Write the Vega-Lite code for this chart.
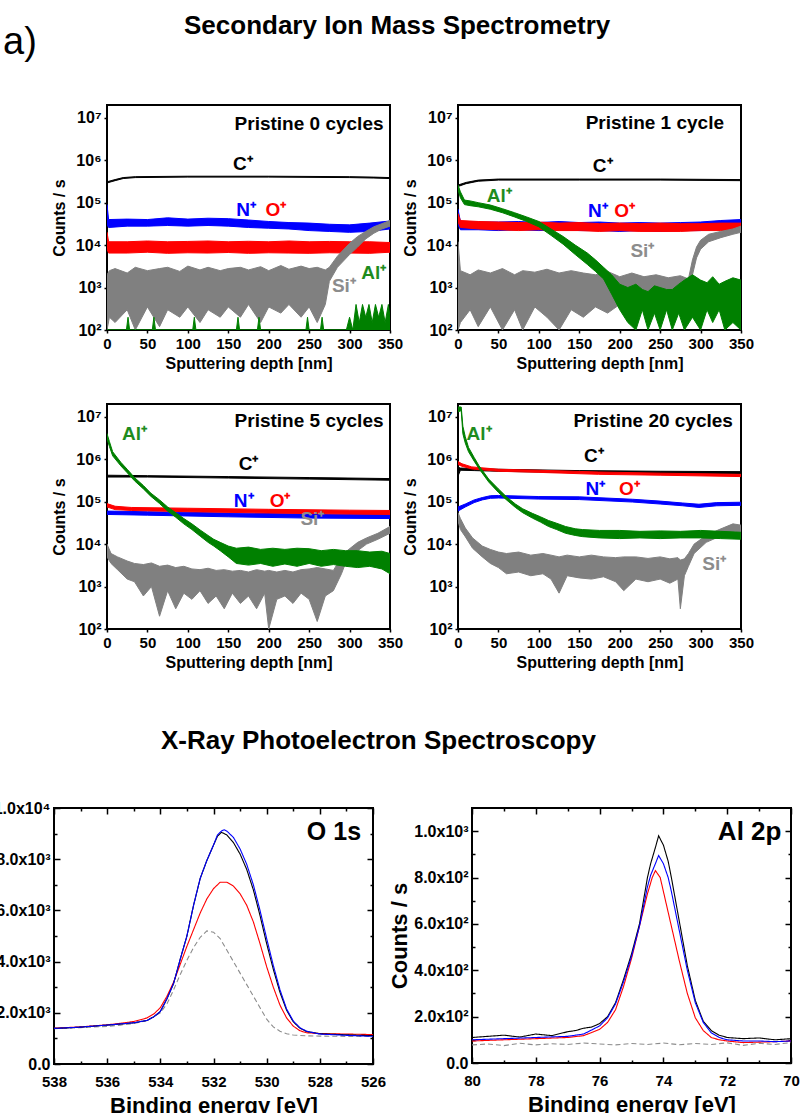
{
  "$schema": "https://vega.github.io/schema/vega-lite/v6.json",
  "background": "white",
  "padding": {"left": -8, "top": 13, "right": 0, "bottom": -4},
  "title": {"text": "a)", "anchor": "start", "frame": "group", "baseline": "alphabetic", "offset": -79, "dx": -51, "fontSize": 38, "fontWeight": "normal"},
  "config": {
    "font": "Liberation Sans",
    "view": {"stroke": "black", "strokeWidth": 2},
    "axis": {"labelFont": "Liberation Sans", "titleFont": "Liberation Sans", "labelFontWeight": "bold", "titleFontWeight": "bold", "labelColor": "black", "titleColor": "black", "tickColor": "black", "domainColor": "black", "grid": false, "tickWidth": 1.5, "labelFlush": false, "labelOverlap": false, "domain": false},
    "text": {"font": "Liberation Sans"},
    "title": {"font": "Liberation Sans", "color": "black"}
  },
  "datasets": {
    "sims": [
      {"p":1,"s":"C","x":0,"lo":2.9e5,"hi":3.1e5},{"p":1,"s":"C","x":5,"lo":3.1e5,"hi":3.3e5},{"p":1,"s":"C","x":10,"lo":3.3e5,"hi":3.5e5},{"p":1,"s":"C","x":20,"lo":3.7e5,"hi":3.9e5},{"p":1,"s":"C","x":35,"lo":3.9e5,"hi":4.1e5},{"p":1,"s":"C","x":100,"lo":4.0e5,"hi":4.2e5},{"p":1,"s":"C","x":200,"lo":4.0e5,"hi":4.2e5},{"p":1,"s":"C","x":300,"lo":3.9e5,"hi":4.1e5},{"p":1,"s":"C","x":330,"lo":3.8e5,"hi":4.0e5},{"p":1,"s":"C","x":350,"lo":3.7e5,"hi":3.9e5},
      {"p":1,"s":"N","x":0,"lo":3e4,"hi":9e4},{"p":1,"s":"N","x":2,"lo":2.6e4,"hi":4e4},{"p":1,"s":"N","x":25,"lo":2.8e4,"hi":4.1e4},{"p":1,"s":"N","x":50,"lo":2.8e4,"hi":4e4},{"p":1,"s":"N","x":75,"lo":2.9e4,"hi":4.4e4},{"p":1,"s":"N","x":100,"lo":2.8e4,"hi":4.1e4},{"p":1,"s":"N","x":125,"lo":2.9e4,"hi":4.3e4},{"p":1,"s":"N","x":150,"lo":2.8e4,"hi":4.2e4},{"p":1,"s":"N","x":175,"lo":2.6e4,"hi":3.9e4},{"p":1,"s":"N","x":200,"lo":2.5e4,"hi":3.6e4},{"p":1,"s":"N","x":225,"lo":2.4e4,"hi":3.4e4},{"p":1,"s":"N","x":250,"lo":2.2e4,"hi":3.3e4},{"p":1,"s":"N","x":275,"lo":2.1e4,"hi":3.1e4},{"p":1,"s":"N","x":300,"lo":2.0e4,"hi":3.0e4},{"p":1,"s":"N","x":325,"lo":2.1e4,"hi":3.3e4},{"p":1,"s":"N","x":350,"lo":2.4e4,"hi":3.7e4},
      {"p":1,"s":"O","x":0,"lo":8e3,"hi":2e4},{"p":1,"s":"O","x":2,"lo":6.5e3,"hi":1.2e4},{"p":1,"s":"O","x":25,"lo":6.5e3,"hi":1.2e4},{"p":1,"s":"O","x":50,"lo":6.8e3,"hi":1.25e4},{"p":1,"s":"O","x":75,"lo":6.4e3,"hi":1.2e4},{"p":1,"s":"O","x":100,"lo":6.6e3,"hi":1.22e4},{"p":1,"s":"O","x":125,"lo":6.5e3,"hi":1.25e4},{"p":1,"s":"O","x":150,"lo":6.7e3,"hi":1.2e4},{"p":1,"s":"O","x":175,"lo":6.4e3,"hi":1.23e4},{"p":1,"s":"O","x":200,"lo":6.6e3,"hi":1.2e4},{"p":1,"s":"O","x":225,"lo":6.5e3,"hi":1.25e4},{"p":1,"s":"O","x":250,"lo":6.4e3,"hi":1.2e4},{"p":1,"s":"O","x":275,"lo":6.6e3,"hi":1.22e4},{"p":1,"s":"O","x":300,"lo":6.5e3,"hi":1.2e4},{"p":1,"s":"O","x":325,"lo":6.4e3,"hi":1.2e4},{"p":1,"s":"O","x":350,"lo":6.8e3,"hi":1.15e4},
      {"p":1,"s":"Si","x":0,"lo":100,"hi":2e3},{"p":1,"s":"Si","x":3,"lo":200,"hi":2.5e3},{"p":1,"s":"Si","x":10,"lo":150,"hi":2.8e3},{"p":1,"s":"Si","x":25,"lo":300,"hi":2.2e3},{"p":1,"s":"Si","x":35,"lo":100,"hi":3e3},{"p":1,"s":"Si","x":50,"lo":350,"hi":2.5e3},{"p":1,"s":"Si","x":65,"lo":120,"hi":2.8e3},{"p":1,"s":"Si","x":75,"lo":300,"hi":3e3},{"p":1,"s":"Si","x":90,"lo":200,"hi":2.4e3},{"p":1,"s":"Si","x":100,"lo":350,"hi":3.2e3},{"p":1,"s":"Si","x":115,"lo":150,"hi":2.6e3},{"p":1,"s":"Si","x":125,"lo":300,"hi":3e3},{"p":1,"s":"Si","x":140,"lo":200,"hi":2.5e3},{"p":1,"s":"Si","x":150,"lo":350,"hi":2.8e3},{"p":1,"s":"Si","x":165,"lo":200,"hi":3e3},{"p":1,"s":"Si","x":175,"lo":400,"hi":2.6e3},{"p":1,"s":"Si","x":190,"lo":150,"hi":3.1e3},{"p":1,"s":"Si","x":200,"lo":350,"hi":2.5e3},{"p":1,"s":"Si","x":215,"lo":250,"hi":3.3e3},{"p":1,"s":"Si","x":225,"lo":400,"hi":2.7e3},{"p":1,"s":"Si","x":240,"lo":200,"hi":3.2e3},{"p":1,"s":"Si","x":250,"lo":350,"hi":2.8e3},{"p":1,"s":"Si","x":260,"lo":150,"hi":3e3},{"p":1,"s":"Si","x":270,"lo":400,"hi":2.6e3},{"p":1,"s":"Si","x":275,"lo":1.4e3,"hi":3e3},{"p":1,"s":"Si","x":285,"lo":3e3,"hi":5.5e3},{"p":1,"s":"Si","x":300,"lo":6e3,"hi":1.1e4},{"p":1,"s":"Si","x":310,"lo":9e3,"hi":1.6e4},{"p":1,"s":"Si","x":320,"lo":1.4e4,"hi":2.1e4},{"p":1,"s":"Si","x":330,"lo":1.9e4,"hi":2.7e4},{"p":1,"s":"Si","x":340,"lo":2.4e4,"hi":3.2e4},{"p":1,"s":"Si","x":350,"lo":2.8e4,"hi":3.8e4},
      {"p":1,"s":"Al","x":0,"lo":100,"hi":100},{"p":1,"s":"Al","x":24,"lo":100,"hi":100},{"p":1,"s":"Al","x":26,"lo":100,"hi":200},{"p":1,"s":"Al","x":28,"lo":100,"hi":100},{"p":1,"s":"Al","x":56,"lo":100,"hi":100},{"p":1,"s":"Al","x":58,"lo":100,"hi":200},{"p":1,"s":"Al","x":60,"lo":100,"hi":100},{"p":1,"s":"Al","x":106,"lo":100,"hi":100},{"p":1,"s":"Al","x":108,"lo":100,"hi":200},{"p":1,"s":"Al","x":110,"lo":100,"hi":100},{"p":1,"s":"Al","x":160,"lo":100,"hi":100},{"p":1,"s":"Al","x":162,"lo":100,"hi":200},{"p":1,"s":"Al","x":164,"lo":100,"hi":100},{"p":1,"s":"Al","x":186,"lo":100,"hi":100},{"p":1,"s":"Al","x":188,"lo":100,"hi":200},{"p":1,"s":"Al","x":190,"lo":100,"hi":100},{"p":1,"s":"Al","x":246,"lo":100,"hi":100},{"p":1,"s":"Al","x":248,"lo":100,"hi":200},{"p":1,"s":"Al","x":250,"lo":100,"hi":100},{"p":1,"s":"Al","x":264,"lo":100,"hi":100},{"p":1,"s":"Al","x":266,"lo":100,"hi":200},{"p":1,"s":"Al","x":268,"lo":100,"hi":100},{"p":1,"s":"Al","x":296,"lo":100,"hi":100},{"p":1,"s":"Al","x":300,"lo":100,"hi":200},{"p":1,"s":"Al","x":304,"lo":100,"hi":100},{"p":1,"s":"Al","x":308,"lo":100,"hi":400},{"p":1,"s":"Al","x":312,"lo":100,"hi":150},{"p":1,"s":"Al","x":316,"lo":100,"hi":400},{"p":1,"s":"Al","x":320,"lo":100,"hi":200},{"p":1,"s":"Al","x":324,"lo":100,"hi":400},{"p":1,"s":"Al","x":328,"lo":100,"hi":150},{"p":1,"s":"Al","x":332,"lo":100,"hi":400},{"p":1,"s":"Al","x":336,"lo":100,"hi":200},{"p":1,"s":"Al","x":340,"lo":100,"hi":400},{"p":1,"s":"Al","x":344,"lo":100,"hi":150},{"p":1,"s":"Al","x":348,"lo":100,"hi":400},{"p":1,"s":"Al","x":350,"lo":100,"hi":200},
      {"p":1,"k":"L","s":"C","x":168,"y":8.3e5,"t":"C⁺"},{"p":1,"k":"L","s":"N","x":172,"y":6.8e4,"t":"N⁺"},{"p":1,"k":"L","s":"O","x":209,"y":6.8e4,"t":"O⁺"},{"p":1,"k":"L","s":"Al","x":330,"y":2.2e3,"t":"Al⁺"},{"p":1,"k":"L","s":"Si","x":293,"y":1.07e3,"t":"Si⁺"},{"p":1,"k":"T","s":"C","x":342,"y":7.1e6,"t":"Pristine 0 cycles"},

      {"p":2,"s":"C","x":0,"lo":2.4e5,"hi":2.6e5},{"p":2,"s":"C","x":10,"lo":2.8e5,"hi":3e5},{"p":2,"s":"C","x":25,"lo":3.2e5,"hi":3.4e5},{"p":2,"s":"C","x":50,"lo":3.4e5,"hi":3.6e5},{"p":2,"s":"C","x":150,"lo":3.4e5,"hi":3.6e5},{"p":2,"s":"C","x":250,"lo":3.4e5,"hi":3.6e5},{"p":2,"s":"C","x":350,"lo":3.3e5,"hi":3.5e5},
      {"p":2,"s":"N","x":0,"lo":3e4,"hi":7e4},{"p":2,"s":"N","x":3,"lo":2.3e4,"hi":3.6e4},{"p":2,"s":"N","x":25,"lo":2.3e4,"hi":3.5e4},{"p":2,"s":"N","x":50,"lo":2.2e4,"hi":3.5e4},{"p":2,"s":"N","x":75,"lo":2.3e4,"hi":3.6e4},{"p":2,"s":"N","x":100,"lo":2.2e4,"hi":3.4e4},{"p":2,"s":"N","x":125,"lo":2.3e4,"hi":3.6e4},{"p":2,"s":"N","x":150,"lo":2.2e4,"hi":3.4e4},{"p":2,"s":"N","x":175,"lo":2.2e4,"hi":3.5e4},{"p":2,"s":"N","x":200,"lo":2.1e4,"hi":3.3e4},{"p":2,"s":"N","x":225,"lo":2.2e4,"hi":3.4e4},{"p":2,"s":"N","x":250,"lo":2.1e4,"hi":3.3e4},{"p":2,"s":"N","x":275,"lo":2.2e4,"hi":3.4e4},{"p":2,"s":"N","x":300,"lo":2.2e4,"hi":3.5e4},{"p":2,"s":"N","x":325,"lo":2.4e4,"hi":3.8e4},{"p":2,"s":"N","x":350,"lo":2.5e4,"hi":4e4},
      {"p":2,"s":"O","x":0,"lo":3.5e4,"hi":5.5e4},{"p":2,"s":"O","x":3,"lo":2.6e4,"hi":3.8e4},{"p":2,"s":"O","x":25,"lo":2.4e4,"hi":3.6e4},{"p":2,"s":"O","x":50,"lo":2.3e4,"hi":3.5e4},{"p":2,"s":"O","x":75,"lo":2.2e4,"hi":3.4e4},{"p":2,"s":"O","x":100,"lo":2.3e4,"hi":3.5e4},{"p":2,"s":"O","x":125,"lo":2.2e4,"hi":3.3e4},{"p":2,"s":"O","x":150,"lo":2.2e4,"hi":3.4e4},{"p":2,"s":"O","x":175,"lo":2.1e4,"hi":3.2e4},{"p":2,"s":"O","x":200,"lo":2.2e4,"hi":3.3e4},{"p":2,"s":"O","x":225,"lo":2.1e4,"hi":3.2e4},{"p":2,"s":"O","x":250,"lo":2.1e4,"hi":3.3e4},{"p":2,"s":"O","x":275,"lo":2.1e4,"hi":3.2e4},{"p":2,"s":"O","x":300,"lo":2.2e4,"hi":3.2e4},{"p":2,"s":"O","x":325,"lo":2.2e4,"hi":3.3e4},{"p":2,"s":"O","x":350,"lo":2.3e4,"hi":3.3e4},
      {"p":2,"s":"Si","x":0,"lo":100,"hi":1.2e4},{"p":2,"s":"Si","x":3,"lo":150,"hi":2.5e3},{"p":2,"s":"Si","x":15,"lo":300,"hi":2e3},{"p":2,"s":"Si","x":25,"lo":120,"hi":2.6e3},{"p":2,"s":"Si","x":40,"lo":350,"hi":2.2e3},{"p":2,"s":"Si","x":55,"lo":100,"hi":2.8e3},{"p":2,"s":"Si","x":70,"lo":300,"hi":2e3},{"p":2,"s":"Si","x":80,"lo":100,"hi":2.5e3},{"p":2,"s":"Si","x":95,"lo":350,"hi":2.3e3},{"p":2,"s":"Si","x":110,"lo":200,"hi":2.7e3},{"p":2,"s":"Si","x":125,"lo":100,"hi":2.2e3},{"p":2,"s":"Si","x":140,"lo":300,"hi":2.5e3},{"p":2,"s":"Si","x":155,"lo":200,"hi":2.2e3},{"p":2,"s":"Si","x":170,"lo":350,"hi":2e3},{"p":2,"s":"Si","x":185,"lo":250,"hi":2.4e3},{"p":2,"s":"Si","x":200,"lo":400,"hi":1.8e3},{"p":2,"s":"Si","x":215,"lo":300,"hi":2.2e3},{"p":2,"s":"Si","x":230,"lo":450,"hi":1.8e3},{"p":2,"s":"Si","x":245,"lo":300,"hi":2e3},{"p":2,"s":"Si","x":260,"lo":450,"hi":1.7e3},{"p":2,"s":"Si","x":275,"lo":350,"hi":1.9e3},{"p":2,"s":"Si","x":285,"lo":600,"hi":1.6e3},{"p":2,"s":"Si","x":290,"lo":2e3,"hi":4.5e3},{"p":2,"s":"Si","x":295,"lo":5e3,"hi":9e3},{"p":2,"s":"Si","x":300,"lo":8e3,"hi":1.3e4},{"p":2,"s":"Si","x":310,"lo":1.2e4,"hi":1.8e4},{"p":2,"s":"Si","x":325,"lo":1.5e4,"hi":2.1e4},{"p":2,"s":"Si","x":340,"lo":1.8e4,"hi":2.4e4},{"p":2,"s":"Si","x":350,"lo":2e4,"hi":2.8e4},
      {"p":2,"s":"Al","x":0,"lo":2e5,"hi":2.6e5},{"p":2,"s":"Al","x":3,"lo":1.3e5,"hi":1.8e5},{"p":2,"s":"Al","x":8,"lo":9e4,"hi":1.15e5},{"p":2,"s":"Al","x":15,"lo":8.5e4,"hi":1.1e5},{"p":2,"s":"Al","x":25,"lo":8e4,"hi":1e5},{"p":2,"s":"Al","x":40,"lo":7e4,"hi":8.8e4},{"p":2,"s":"Al","x":55,"lo":5.8e4,"hi":7.2e4},{"p":2,"s":"Al","x":70,"lo":4.6e4,"hi":5.8e4},{"p":2,"s":"Al","x":85,"lo":3.6e4,"hi":4.6e4},{"p":2,"s":"Al","x":100,"lo":2.7e4,"hi":3.6e4},{"p":2,"s":"Al","x":115,"lo":1.7e4,"hi":2.4e4},{"p":2,"s":"Al","x":130,"lo":1.05e4,"hi":1.6e4},{"p":2,"s":"Al","x":145,"lo":6e3,"hi":1e4},{"p":2,"s":"Al","x":160,"lo":3.5e3,"hi":6.5e3},{"p":2,"s":"Al","x":170,"lo":2.4e3,"hi":4.5e3},{"p":2,"s":"Al","x":180,"lo":1.6e3,"hi":3e3},{"p":2,"s":"Al","x":190,"lo":700,"hi":2e3},{"p":2,"s":"Al","x":200,"lo":300,"hi":1.2e3},{"p":2,"s":"Al","x":210,"lo":150,"hi":1e3},{"p":2,"s":"Al","x":220,"lo":100,"hi":1.2e3},{"p":2,"s":"Al","x":228,"lo":300,"hi":900},{"p":2,"s":"Al","x":235,"lo":100,"hi":800},{"p":2,"s":"Al","x":243,"lo":250,"hi":1.1e3},{"p":2,"s":"Al","x":250,"lo":100,"hi":1e3},{"p":2,"s":"Al","x":258,"lo":300,"hi":900},{"p":2,"s":"Al","x":265,"lo":100,"hi":900},{"p":2,"s":"Al","x":273,"lo":250,"hi":1.2e3},{"p":2,"s":"Al","x":280,"lo":100,"hi":1.5e3},{"p":2,"s":"Al","x":290,"lo":200,"hi":2e3},{"p":2,"s":"Al","x":300,"lo":100,"hi":1.5e3},{"p":2,"s":"Al","x":308,"lo":300,"hi":1.3e3},{"p":2,"s":"Al","x":315,"lo":150,"hi":1.8e3},{"p":2,"s":"Al","x":323,"lo":300,"hi":1.2e3},{"p":2,"s":"Al","x":330,"lo":100,"hi":1.4e3},{"p":2,"s":"Al","x":340,"lo":150,"hi":1.7e3},{"p":2,"s":"Al","x":350,"lo":100,"hi":1.5e3},
      {"p":2,"k":"L","s":"C","x":179,"y":7.2e5,"t":"C⁺"},{"p":2,"k":"L","s":"N","x":173,"y":6.5e4,"t":"N⁺"},{"p":2,"k":"L","s":"O","x":206,"y":6.5e4,"t":"O⁺"},{"p":2,"k":"L","s":"Al","x":51,"y":1.4e5,"t":"Al⁺"},{"p":2,"k":"L","s":"Si","x":228,"y":7.4e3,"t":"Si⁺"},{"p":2,"k":"T","s":"C","x":329,"y":7.6e6,"t":"Pristine 1 cycle"},

      {"p":3,"s":"C","x":0,"lo":3.8e5,"hi":4.2e5},{"p":3,"s":"C","x":50,"lo":3.8e5,"hi":4.1e5},{"p":3,"s":"C","x":150,"lo":3.6e5,"hi":3.9e5},{"p":3,"s":"C","x":250,"lo":3.4e5,"hi":3.7e5},{"p":3,"s":"C","x":350,"lo":3.2e5,"hi":3.5e5},
      {"p":3,"s":"N","x":0,"lo":5e4,"hi":6e4},{"p":3,"s":"N","x":50,"lo":4.8e4,"hi":5.8e4},{"p":3,"s":"N","x":150,"lo":4.4e4,"hi":5.4e4},{"p":3,"s":"N","x":250,"lo":4.1e4,"hi":5.1e4},{"p":3,"s":"N","x":350,"lo":4e4,"hi":5e4},
      {"p":3,"s":"O","x":0,"lo":7.5e4,"hi":9e4},{"p":3,"s":"O","x":10,"lo":6.5e4,"hi":7.8e4},{"p":3,"s":"O","x":30,"lo":6.2e4,"hi":7.3e4},{"p":3,"s":"O","x":100,"lo":5.8e4,"hi":7e4},{"p":3,"s":"O","x":200,"lo":5.4e4,"hi":6.6e4},{"p":3,"s":"O","x":300,"lo":5.1e4,"hi":6.3e4},{"p":3,"s":"O","x":350,"lo":5e4,"hi":6.2e4},
      {"p":3,"s":"Si","x":0,"lo":5e3,"hi":1e4},{"p":3,"s":"Si","x":5,"lo":3.5e3,"hi":6e3},{"p":3,"s":"Si","x":13,"lo":2.5e3,"hi":5e3},{"p":3,"s":"Si","x":25,"lo":1.5e3,"hi":4e3},{"p":3,"s":"Si","x":34,"lo":1.3e3,"hi":3.5e3},{"p":3,"s":"Si","x":45,"lo":600,"hi":3.3e3},{"p":3,"s":"Si","x":55,"lo":1e3,"hi":3.6e3},{"p":3,"s":"Si","x":65,"lo":200,"hi":3e3},{"p":3,"s":"Si","x":75,"lo":800,"hi":3.2e3},{"p":3,"s":"Si","x":85,"lo":300,"hi":2.8e3},{"p":3,"s":"Si","x":95,"lo":700,"hi":3e3},{"p":3,"s":"Si","x":105,"lo":500,"hi":2.6e3},{"p":3,"s":"Si","x":115,"lo":800,"hi":2.5e3},{"p":3,"s":"Si","x":125,"lo":400,"hi":2.7e3},{"p":3,"s":"Si","x":135,"lo":600,"hi":2.4e3},{"p":3,"s":"Si","x":145,"lo":300,"hi":2.5e3},{"p":3,"s":"Si","x":155,"lo":700,"hi":2.3e3},{"p":3,"s":"Si","x":165,"lo":400,"hi":2.4e3},{"p":3,"s":"Si","x":175,"lo":600,"hi":2.2e3},{"p":3,"s":"Si","x":185,"lo":300,"hi":2.5e3},{"p":3,"s":"Si","x":195,"lo":700,"hi":2.3e3},{"p":3,"s":"Si","x":200,"lo":100,"hi":2.4e3},{"p":3,"s":"Si","x":210,"lo":500,"hi":2.2e3},{"p":3,"s":"Si","x":220,"lo":600,"hi":2.4e3},{"p":3,"s":"Si","x":230,"lo":400,"hi":2.2e3},{"p":3,"s":"Si","x":240,"lo":700,"hi":2.5e3},{"p":3,"s":"Si","x":250,"lo":500,"hi":2.6e3},{"p":3,"s":"Si","x":260,"lo":150,"hi":2.8e3},{"p":3,"s":"Si","x":270,"lo":600,"hi":2.6e3},{"p":3,"s":"Si","x":280,"lo":800,"hi":2.4e3},{"p":3,"s":"Si","x":290,"lo":2e3,"hi":5e3},{"p":3,"s":"Si","x":297,"lo":4.5e3,"hi":7e3},{"p":3,"s":"Si","x":310,"lo":7e3,"hi":1.1e4},{"p":3,"s":"Si","x":321,"lo":1e4,"hi":1.4e4},{"p":3,"s":"Si","x":335,"lo":1.3e4,"hi":1.8e4},{"p":3,"s":"Si","x":350,"lo":1.8e4,"hi":2.6e4},
      {"p":3,"s":"Al","x":0,"lo":3e6,"hi":4e6},{"p":3,"s":"Al","x":3,"lo":2e6,"hi":2.6e6},{"p":3,"s":"Al","x":7,"lo":1.2e6,"hi":1.5e6},{"p":3,"s":"Al","x":17,"lo":7e5,"hi":8.5e5},{"p":3,"s":"Al","x":25,"lo":4.8e5,"hi":5.8e5},{"p":3,"s":"Al","x":34,"lo":3.1e5,"hi":3.7e5},{"p":3,"s":"Al","x":45,"lo":2e5,"hi":2.4e5},{"p":3,"s":"Al","x":54,"lo":1.35e5,"hi":1.6e5},{"p":3,"s":"Al","x":65,"lo":9e4,"hi":1.1e5},{"p":3,"s":"Al","x":75,"lo":6e4,"hi":7.5e4},{"p":3,"s":"Al","x":85,"lo":4.3e4,"hi":5.5e4},{"p":3,"s":"Al","x":95,"lo":3e4,"hi":4e4},{"p":3,"s":"Al","x":105,"lo":2.2e4,"hi":3e4},{"p":3,"s":"Al","x":116,"lo":1.5e4,"hi":2.1e4},{"p":3,"s":"Al","x":125,"lo":1.1e4,"hi":1.6e4},{"p":3,"s":"Al","x":132,"lo":9e3,"hi":1.3e4},{"p":3,"s":"Al","x":140,"lo":7e3,"hi":1.1e4},{"p":3,"s":"Al","x":150,"lo":5e3,"hi":9e3},{"p":3,"s":"Al","x":160,"lo":3.5e3,"hi":8e3},{"p":3,"s":"Al","x":175,"lo":3.2e3,"hi":8.5e3},{"p":3,"s":"Al","x":190,"lo":3.5e3,"hi":7.5e3},{"p":3,"s":"Al","x":205,"lo":3e3,"hi":8e3},{"p":3,"s":"Al","x":220,"lo":3.4e3,"hi":7.5e3},{"p":3,"s":"Al","x":235,"lo":3e3,"hi":8e3},{"p":3,"s":"Al","x":250,"lo":3.5e3,"hi":7.8e3},{"p":3,"s":"Al","x":265,"lo":3e3,"hi":7e3},{"p":3,"s":"Al","x":280,"lo":3.3e3,"hi":7.5e3},{"p":3,"s":"Al","x":295,"lo":3e3,"hi":7e3},{"p":3,"s":"Al","x":310,"lo":2.8e3,"hi":7e3},{"p":3,"s":"Al","x":325,"lo":3e3,"hi":6.5e3},{"p":3,"s":"Al","x":340,"lo":2.6e3,"hi":6.8e3},{"p":3,"s":"Al","x":350,"lo":2e3,"hi":6e3},
      {"p":3,"k":"L","s":"C","x":175,"y":7.8e5,"t":"C⁺"},{"p":3,"k":"L","s":"N","x":169,"y":1.05e5,"t":"N⁺"},{"p":3,"k":"L","s":"O","x":214,"y":1.05e5,"t":"O⁺"},{"p":3,"k":"L","s":"Al","x":34,"y":3.9e6,"t":"Al⁺"},{"p":3,"k":"L","s":"Si","x":254,"y":3.9e4,"t":"Si⁺"},{"p":3,"k":"T","s":"C","x":342,"y":7.8e6,"t":"Pristine 5 cycles"},

      {"p":4,"s":"C","x":0,"lo":4e5,"hi":6.5e5},{"p":4,"s":"C","x":3,"lo":5.5e5,"hi":6.2e5},{"p":4,"s":"C","x":20,"lo":5.4e5,"hi":6e5},{"p":4,"s":"C","x":50,"lo":5.2e5,"hi":5.8e5},{"p":4,"s":"C","x":150,"lo":4.8e5,"hi":5.4e5},{"p":4,"s":"C","x":250,"lo":4.6e5,"hi":5.2e5},{"p":4,"s":"C","x":350,"lo":4.5e5,"hi":5.1e5},
      {"p":4,"s":"N","x":0,"lo":6e4,"hi":7.5e4},{"p":4,"s":"N","x":9,"lo":7.5e4,"hi":8.8e4},{"p":4,"s":"N","x":20,"lo":9.5e4,"hi":1.1e5},{"p":4,"s":"N","x":30,"lo":1.1e5,"hi":1.25e5},{"p":4,"s":"N","x":40,"lo":1.2e5,"hi":1.38e5},{"p":4,"s":"N","x":50,"lo":1.22e5,"hi":1.4e5},{"p":4,"s":"N","x":100,"lo":1.15e5,"hi":1.32e5},{"p":4,"s":"N","x":150,"lo":1.12e5,"hi":1.3e5},{"p":4,"s":"N","x":216,"lo":9.8e4,"hi":1.14e5},{"p":4,"s":"N","x":250,"lo":8.8e4,"hi":1.03e5},{"p":4,"s":"N","x":278,"lo":8e4,"hi":9.3e4},{"p":4,"s":"N","x":298,"lo":7.3e4,"hi":8.7e4},{"p":4,"s":"N","x":320,"lo":8e4,"hi":9.5e4},{"p":4,"s":"N","x":350,"lo":8.2e4,"hi":9.7e4},
      {"p":4,"s":"O","x":0,"lo":7.5e5,"hi":8.8e5},{"p":4,"s":"O","x":5,"lo":6.8e5,"hi":7.8e5},{"p":4,"s":"O","x":17,"lo":5.9e5,"hi":6.6e5},{"p":4,"s":"O","x":50,"lo":5.2e5,"hi":5.8e5},{"p":4,"s":"O","x":100,"lo":4.9e5,"hi":5.5e5},{"p":4,"s":"O","x":174,"lo":4.4e5,"hi":5e5},{"p":4,"s":"O","x":250,"lo":4.2e5,"hi":4.7e5},{"p":4,"s":"O","x":350,"lo":3.9e5,"hi":4.4e5},
      {"p":4,"s":"Si","x":0,"lo":3.5e4,"hi":5.5e4},{"p":4,"s":"Si","x":3,"lo":2.2e4,"hi":4e4},{"p":4,"s":"Si","x":9,"lo":1.5e4,"hi":2.4e4},{"p":4,"s":"Si","x":18,"lo":8e3,"hi":1.4e4},{"p":4,"s":"Si","x":30,"lo":5e3,"hi":9e3},{"p":4,"s":"Si","x":40,"lo":3.5e3,"hi":7.5e3},{"p":4,"s":"Si","x":50,"lo":2.8e3,"hi":6.5e3},{"p":4,"s":"Si","x":60,"lo":2e3,"hi":6e3},{"p":4,"s":"Si","x":75,"lo":2.2e3,"hi":6.5e3},{"p":4,"s":"Si","x":90,"lo":1.8e3,"hi":5.5e3},{"p":4,"s":"Si","x":105,"lo":2e3,"hi":6e3},{"p":4,"s":"Si","x":115,"lo":1.5e3,"hi":5.5e3},{"p":4,"s":"Si","x":125,"lo":700,"hi":5e3},{"p":4,"s":"Si","x":135,"lo":1.8e3,"hi":5.5e3},{"p":4,"s":"Si","x":150,"lo":1.6e3,"hi":5e3},{"p":4,"s":"Si","x":165,"lo":1.5e3,"hi":5.5e3},{"p":4,"s":"Si","x":180,"lo":1.7e3,"hi":5e3},{"p":4,"s":"Si","x":195,"lo":1.3e3,"hi":4.8e3},{"p":4,"s":"Si","x":205,"lo":800,"hi":5e3},{"p":4,"s":"Si","x":220,"lo":1.5e3,"hi":5e3},{"p":4,"s":"Si","x":235,"lo":1.3e3,"hi":4.6e3},{"p":4,"s":"Si","x":250,"lo":1.5e3,"hi":5e3},{"p":4,"s":"Si","x":262,"lo":1.2e3,"hi":4.5e3},{"p":4,"s":"Si","x":272,"lo":1.5e3,"hi":4.8e3},{"p":4,"s":"Si","x":275,"lo":300,"hi":4.2e3},{"p":4,"s":"Si","x":280,"lo":1.8e3,"hi":4.5e3},{"p":4,"s":"Si","x":285,"lo":3e3,"hi":6e3},{"p":4,"s":"Si","x":292,"lo":6e3,"hi":1e4},{"p":4,"s":"Si","x":307,"lo":1.1e4,"hi":1.6e4},{"p":4,"s":"Si","x":323,"lo":1.5e4,"hi":2.2e4},{"p":4,"s":"Si","x":340,"lo":2e4,"hi":3e4},{"p":4,"s":"Si","x":350,"lo":1.8e4,"hi":2.8e4},
      {"p":4,"s":"Al","x":0,"lo":1.3e7,"hi":1.7e7},{"p":4,"s":"Al","x":4,"lo":1.4e7,"hi":1.7e7},{"p":4,"s":"Al","x":6,"lo":4e6,"hi":6e6},{"p":4,"s":"Al","x":9,"lo":2.4e6,"hi":3.4e6},{"p":4,"s":"Al","x":13,"lo":1.5e6,"hi":1.9e6},{"p":4,"s":"Al","x":20,"lo":9e5,"hi":1.1e6},{"p":4,"s":"Al","x":26,"lo":6e5,"hi":7e5},{"p":4,"s":"Al","x":38,"lo":2.9e5,"hi":3.4e5},{"p":4,"s":"Al","x":50,"lo":1.65e5,"hi":2e5},{"p":4,"s":"Al","x":60,"lo":1.1e5,"hi":1.3e5},{"p":4,"s":"Al","x":71,"lo":7.3e4,"hi":8.8e4},{"p":4,"s":"Al","x":80,"lo":5.5e4,"hi":6.8e4},{"p":4,"s":"Al","x":92,"lo":4.1e4,"hi":5.3e4},{"p":4,"s":"Al","x":102,"lo":3.3e4,"hi":4.4e4},{"p":4,"s":"Al","x":112,"lo":2.6e4,"hi":3.6e4},{"p":4,"s":"Al","x":122,"lo":2.2e4,"hi":3.1e4},{"p":4,"s":"Al","x":133,"lo":1.8e4,"hi":2.6e4},{"p":4,"s":"Al","x":145,"lo":1.6e4,"hi":2.3e4},{"p":4,"s":"Al","x":154,"lo":1.5e4,"hi":2.2e4},{"p":4,"s":"Al","x":175,"lo":1.4e4,"hi":2.1e4},{"p":4,"s":"Al","x":200,"lo":1.35e4,"hi":2.1e4},{"p":4,"s":"Al","x":225,"lo":1.4e4,"hi":2e4},{"p":4,"s":"Al","x":250,"lo":1.35e4,"hi":2.05e4},{"p":4,"s":"Al","x":275,"lo":1.4e4,"hi":2e4},{"p":4,"s":"Al","x":300,"lo":1.4e4,"hi":2.1e4},{"p":4,"s":"Al","x":325,"lo":1.35e4,"hi":2e4},{"p":4,"s":"Al","x":350,"lo":1.3e4,"hi":1.9e4},
      {"p":4,"k":"L","s":"C","x":168,"y":1.2e6,"t":"C⁺"},{"p":4,"k":"L","s":"N","x":170,"y":2e5,"t":"N⁺"},{"p":4,"k":"L","s":"O","x":212,"y":2e5,"t":"O⁺"},{"p":4,"k":"L","s":"Al","x":26,"y":3.9e6,"t":"Al⁺"},{"p":4,"k":"L","s":"Si","x":317,"y":3.4e3,"t":"Si⁺"},{"p":4,"k":"T","s":"C","x":340,"y":8e6,"t":"Pristine 20 cycles"}
    ],
    "o1s": [
      {"c":"d","x":538,"y":1380},{"c":"d","x":537,"y":1420},{"c":"d","x":536,"y":1470},{"c":"d","x":535.5,"y":1520},{"c":"d","x":535,"y":1580},{"c":"d","x":534.5,"y":1700},{"c":"d","x":534,"y":2000},{"c":"d","x":533.75,"y":2350},{"c":"d","x":533.5,"y":2900},{"c":"d","x":533.25,"y":3500},{"c":"d","x":533,"y":4050},{"c":"d","x":532.75,"y":4550},{"c":"d","x":532.5,"y":4950},{"c":"d","x":532.25,"y":5200},{"c":"d","x":532,"y":5150},{"c":"d","x":531.75,"y":4900},{"c":"d","x":531.5,"y":4450},{"c":"d","x":531.25,"y":4000},{"c":"d","x":531,"y":3550},{"c":"d","x":530.75,"y":3100},{"c":"d","x":530.5,"y":2650},{"c":"d","x":530.25,"y":2200},{"c":"d","x":530,"y":1750},{"c":"d","x":529.75,"y":1450},{"c":"d","x":529.5,"y":1280},{"c":"d","x":529.25,"y":1180},{"c":"d","x":529,"y":1130},{"c":"d","x":528.5,"y":1100},{"c":"d","x":528,"y":1090},{"c":"d","x":527,"y":1080},{"c":"d","x":526,"y":1080},
      {"c":"r","x":538,"y":1400},{"c":"r","x":537,"y":1450},{"c":"r","x":536,"y":1530},{"c":"r","x":535.5,"y":1590},{"c":"r","x":535,"y":1660},{"c":"r","x":534.5,"y":1800},{"c":"r","x":534.25,"y":1950},{"c":"r","x":534,"y":2200},{"c":"r","x":533.75,"y":2650},{"c":"r","x":533.5,"y":3200},{"c":"r","x":533.25,"y":3900},{"c":"r","x":533,"y":4600},{"c":"r","x":532.75,"y":5250},{"c":"r","x":532.5,"y":5900},{"c":"r","x":532.25,"y":6450},{"c":"r","x":532,"y":6850},{"c":"r","x":531.75,"y":7100},{"c":"r","x":531.5,"y":7100},{"c":"r","x":531.25,"y":6950},{"c":"r","x":531,"y":6650},{"c":"r","x":530.75,"y":6200},{"c":"r","x":530.5,"y":5550},{"c":"r","x":530.25,"y":4700},{"c":"r","x":530,"y":3800},{"c":"r","x":529.75,"y":3000},{"c":"r","x":529.5,"y":2300},{"c":"r","x":529.25,"y":1800},{"c":"r","x":529,"y":1480},{"c":"r","x":528.75,"y":1300},{"c":"r","x":528.5,"y":1220},{"c":"r","x":528,"y":1190},{"c":"r","x":527,"y":1170},{"c":"r","x":526,"y":1150},
      {"c":"k","x":538,"y":1390},{"c":"k","x":537.5,"y":1410},{"c":"k","x":537,"y":1440},{"c":"k","x":536.5,"y":1480},{"c":"k","x":536,"y":1520},{"c":"k","x":535.5,"y":1560},{"c":"k","x":535,"y":1610},{"c":"k","x":534.5,"y":1700},{"c":"k","x":534.25,"y":1840},{"c":"k","x":534,"y":2050},{"c":"k","x":533.75,"y":2550},{"c":"k","x":533.5,"y":3150},{"c":"k","x":533.25,"y":4100},{"c":"k","x":533,"y":5000},{"c":"k","x":532.75,"y":6200},{"c":"k","x":532.5,"y":7250},{"c":"k","x":532.25,"y":7950},{"c":"k","x":532,"y":8550},{"c":"k","x":531.85,"y":8900},{"c":"k","x":531.7,"y":9050},{"c":"k","x":531.5,"y":8950},{"c":"k","x":531.25,"y":8650},{"c":"k","x":531,"y":8200},{"c":"k","x":530.75,"y":7600},{"c":"k","x":530.5,"y":6800},{"c":"k","x":530.25,"y":5800},{"c":"k","x":530,"y":4700},{"c":"k","x":529.75,"y":3700},{"c":"k","x":529.5,"y":2800},{"c":"k","x":529.25,"y":2100},{"c":"k","x":529,"y":1650},{"c":"k","x":528.75,"y":1400},{"c":"k","x":528.5,"y":1270},{"c":"k","x":528,"y":1180},{"c":"k","x":527.5,"y":1160},{"c":"k","x":527,"y":1140},{"c":"k","x":526.5,"y":1120},{"c":"k","x":526,"y":1110},
      {"c":"b","x":538,"y":1390},{"c":"b","x":537,"y":1440},{"c":"b","x":536,"y":1520},{"c":"b","x":535,"y":1610},{"c":"b","x":534.5,"y":1700},{"c":"b","x":534.25,"y":1840},{"c":"b","x":534,"y":2050},{"c":"b","x":533.75,"y":2550},{"c":"b","x":533.5,"y":3150},{"c":"b","x":533.25,"y":4100},{"c":"b","x":533,"y":5000},{"c":"b","x":532.75,"y":6200},{"c":"b","x":532.5,"y":7250},{"c":"b","x":532.25,"y":7950},{"c":"b","x":532,"y":8550},{"c":"b","x":531.85,"y":8950},{"c":"b","x":531.7,"y":9100},{"c":"b","x":531.6,"y":9150},{"c":"b","x":531.5,"y":9100},{"c":"b","x":531.25,"y":8850},{"c":"b","x":531,"y":8400},{"c":"b","x":530.75,"y":7800},{"c":"b","x":530.5,"y":7000},{"c":"b","x":530.25,"y":6000},{"c":"b","x":530,"y":4900},{"c":"b","x":529.75,"y":3850},{"c":"b","x":529.5,"y":2900},{"c":"b","x":529.25,"y":2150},{"c":"b","x":529,"y":1680},{"c":"b","x":528.75,"y":1420},{"c":"b","x":528.5,"y":1280},{"c":"b","x":528,"y":1170},{"c":"b","x":527,"y":1120},{"c":"b","x":526,"y":1080}
    ],
    "al2p": [
      {"c":"d","x":80,"y":78},{"c":"d","x":79.5,"y":82},{"c":"d","x":79,"y":75},{"c":"d","x":78.5,"y":85},{"c":"d","x":78,"y":78},{"c":"d","x":77.5,"y":83},{"c":"d","x":77,"y":80},{"c":"d","x":76.5,"y":86},{"c":"d","x":76,"y":82},{"c":"d","x":75.5,"y":78},{"c":"d","x":75,"y":84},{"c":"d","x":74.5,"y":80},{"c":"d","x":74,"y":86},{"c":"d","x":73.5,"y":79},{"c":"d","x":73,"y":84},{"c":"d","x":72.5,"y":80},{"c":"d","x":72,"y":87},{"c":"d","x":71.5,"y":76},{"c":"d","x":71,"y":85},{"c":"d","x":70.5,"y":80},{"c":"d","x":70,"y":88},
      {"c":"r","x":80,"y":95},{"c":"r","x":79,"y":100},{"c":"r","x":78,"y":105},{"c":"r","x":77,"y":110},{"c":"r","x":76.5,"y":118},{"c":"r","x":76,"y":145},{"c":"r","x":75.75,"y":175},{"c":"r","x":75.5,"y":230},{"c":"r","x":75.25,"y":330},{"c":"r","x":75,"y":450},{"c":"r","x":74.75,"y":590},{"c":"r","x":74.5,"y":730},{"c":"r","x":74.35,"y":800},{"c":"r","x":74.25,"y":830},{"c":"r","x":74.1,"y":800},{"c":"r","x":74,"y":740},{"c":"r","x":73.85,"y":650},{"c":"r","x":73.75,"y":590},{"c":"r","x":73.5,"y":440},{"c":"r","x":73.25,"y":300},{"c":"r","x":73,"y":195},{"c":"r","x":72.75,"y":140},{"c":"r","x":72.5,"y":110},{"c":"r","x":72.25,"y":100},{"c":"r","x":72,"y":95},{"c":"r","x":71.5,"y":88},{"c":"r","x":71,"y":90},{"c":"r","x":70.5,"y":92},{"c":"r","x":70,"y":95},
      {"c":"k","x":80,"y":110},{"c":"k","x":79.5,"y":115},{"c":"k","x":79,"y":120},{"c":"k","x":78.5,"y":112},{"c":"k","x":78,"y":125},{"c":"k","x":77.5,"y":118},{"c":"k","x":77,"y":135},{"c":"k","x":76.75,"y":140},{"c":"k","x":76.5,"y":150},{"c":"k","x":76.25,"y":155},{"c":"k","x":76,"y":170},{"c":"k","x":75.75,"y":200},{"c":"k","x":75.5,"y":260},{"c":"k","x":75.25,"y":360},{"c":"k","x":75,"y":470},{"c":"k","x":74.75,"y":600},{"c":"k","x":74.5,"y":800},{"c":"k","x":74.4,"y":860},{"c":"k","x":74.25,"y":930},{"c":"k","x":74.15,"y":980},{"c":"k","x":74,"y":940},{"c":"k","x":73.85,"y":870},{"c":"k","x":73.75,"y":800},{"c":"k","x":73.5,"y":610},{"c":"k","x":73.25,"y":420},{"c":"k","x":73,"y":270},{"c":"k","x":72.75,"y":180},{"c":"k","x":72.5,"y":140},{"c":"k","x":72.25,"y":120},{"c":"k","x":72,"y":110},{"c":"k","x":71.5,"y":105},{"c":"k","x":71,"y":108},{"c":"k","x":70.5,"y":100},{"c":"k","x":70,"y":105},
      {"c":"b","x":80,"y":100},{"c":"b","x":79,"y":105},{"c":"b","x":78,"y":110},{"c":"b","x":77,"y":115},{"c":"b","x":76.5,"y":125},{"c":"b","x":76,"y":160},{"c":"b","x":75.75,"y":195},{"c":"b","x":75.5,"y":255},{"c":"b","x":75.25,"y":350},{"c":"b","x":75,"y":460},{"c":"b","x":74.75,"y":590},{"c":"b","x":74.5,"y":760},{"c":"b","x":74.4,"y":810},{"c":"b","x":74.25,"y":860},{"c":"b","x":74.15,"y":895},{"c":"b","x":74,"y":860},{"c":"b","x":73.85,"y":800},{"c":"b","x":73.75,"y":740},{"c":"b","x":73.5,"y":570},{"c":"b","x":73.25,"y":400},{"c":"b","x":73,"y":260},{"c":"b","x":72.75,"y":175},{"c":"b","x":72.5,"y":130},{"c":"b","x":72.25,"y":110},{"c":"b","x":72,"y":100},{"c":"b","x":71.5,"y":95},{"c":"b","x":71,"y":95},{"c":"b","x":70.5,"y":92},{"c":"b","x":70,"y":95}
    ]
  },
  "vconcat": [
    {
      "hconcat": [
        {
          "width": 1, "height": 1,
          "data": {"values": []},
          "mark": {"type": "point", "opacity": 0},
          "encoding": {},
          "view": {"stroke": null}
        },
        {
          "data": {"name": "sims"},
          "columns": 2,
          "spacing": {"row": 74, "column": 68},
          "bounds": "flush",
          "title": {"text": "Secondary Ion Mass Spectrometry", "anchor": "start", "frame": "group", "baseline": "alphabetic", "offset": 44, "dx": 77, "fontSize": 26, "fontWeight": "bold"},
          "concat": [
            {"width": 283, "height": 225, "transform": [{"filter": "datum.p == 1"}],
             "layer": [
              {"transform": [{"filter": "!datum.k"}], "mark": {"type": "area", "strokeWidth": 1, "clip": true},
               "encoding": {
                "x": {"field": "x", "type": "quantitative", "title": "Sputtering depth [nm]", "scale": {"domain": [0, 350], "nice": false, "zero": false}, "axis": {"values": [0, 50, 100, 150, 200, 250, 300, 350], "labelFontSize": 15, "titleFontSize": 16, "tickSize": 3, "labelPadding": 3, "titlePadding": 4}},
                "y": {"field": "lo", "type": "quantitative", "title": "Counts / s", "scale": {"type": "log", "domain": [100, 20000000], "nice": false}, "axis": {"values": [100, 1000, 10000, 100000, 1000000, 10000000], "labelExpr": "'10' + ['⁰','¹','²','³','⁴','⁵','⁶','⁷','⁸'][round(log(datum.value)/LN10)]", "labelFontSize": 16, "titleFontSize": 16, "tickSize": 3, "labelPadding": 3, "titlePadding": 8}},
                "y2": {"field": "hi"},
                "fill": {"field": "s", "type": "nominal", "scale": {"domain": ["C", "N", "O", "Si", "Al"], "range": ["#000000", "#0000ff", "#ff0000", "#808080", "#008000"]}, "legend": null},
                "stroke": {"field": "s", "type": "nominal", "scale": {"domain": ["C", "N", "O", "Si", "Al"], "range": ["#000000", "#0000ff", "#ff0000", "#808080", "#008000"]}, "legend": null}}},
              {"transform": [{"filter": "datum.k == 'L'"}], "mark": {"type": "text", "fontSize": 19, "fontWeight": "bold", "baseline": "middle"},
               "encoding": {"x": {"field": "x", "type": "quantitative", "title": "Sputtering depth [nm]"}, "y": {"field": "y", "type": "quantitative", "title": "Counts / s"}, "text": {"field": "t"},
                "color": {"field": "s", "type": "nominal", "scale": {"domain": ["C", "N", "O", "Si", "Al"], "range": ["#000000", "#0000ff", "#ff0000", "#8c8c8c", "#1e8c1e"]}, "legend": null}}},
              {"transform": [{"filter": "datum.k == 'T'"}], "mark": {"type": "text", "fontSize": 19, "fontWeight": "bold", "align": "right", "baseline": "middle", "color": "black"},
               "encoding": {"x": {"field": "x", "type": "quantitative", "title": "Sputtering depth [nm]"}, "y": {"field": "y", "type": "quantitative", "title": "Counts / s"}, "text": {"field": "t"}}}
             ]},
            {"width": 283, "height": 225, "transform": [{"filter": "datum.p == 2"}],
             "layer": [
              {"transform": [{"filter": "!datum.k"}], "mark": {"type": "area", "strokeWidth": 1, "clip": true},
               "encoding": {
                "x": {"field": "x", "type": "quantitative", "title": "Sputtering depth [nm]", "scale": {"domain": [0, 350], "nice": false, "zero": false}, "axis": {"values": [0, 50, 100, 150, 200, 250, 300, 350], "labelFontSize": 15, "titleFontSize": 16, "tickSize": 3, "labelPadding": 3, "titlePadding": 4}},
                "y": {"field": "lo", "type": "quantitative", "title": "Counts / s", "scale": {"type": "log", "domain": [100, 20000000], "nice": false}, "axis": {"values": [100, 1000, 10000, 100000, 1000000, 10000000], "labelExpr": "'10' + ['⁰','¹','²','³','⁴','⁵','⁶','⁷','⁸'][round(log(datum.value)/LN10)]", "labelFontSize": 16, "titleFontSize": 16, "tickSize": 3, "labelPadding": 3, "titlePadding": 8}},
                "y2": {"field": "hi"},
                "fill": {"field": "s", "type": "nominal", "scale": {"domain": ["C", "N", "O", "Si", "Al"], "range": ["#000000", "#0000ff", "#ff0000", "#808080", "#008000"]}, "legend": null},
                "stroke": {"field": "s", "type": "nominal", "scale": {"domain": ["C", "N", "O", "Si", "Al"], "range": ["#000000", "#0000ff", "#ff0000", "#808080", "#008000"]}, "legend": null}}},
              {"transform": [{"filter": "datum.k == 'L'"}], "mark": {"type": "text", "fontSize": 19, "fontWeight": "bold", "baseline": "middle"},
               "encoding": {"x": {"field": "x", "type": "quantitative", "title": "Sputtering depth [nm]"}, "y": {"field": "y", "type": "quantitative", "title": "Counts / s"}, "text": {"field": "t"},
                "color": {"field": "s", "type": "nominal", "scale": {"domain": ["C", "N", "O", "Si", "Al"], "range": ["#000000", "#0000ff", "#ff0000", "#8c8c8c", "#1e8c1e"]}, "legend": null}}},
              {"transform": [{"filter": "datum.k == 'T'"}], "mark": {"type": "text", "fontSize": 19, "fontWeight": "bold", "align": "right", "baseline": "middle", "color": "black"},
               "encoding": {"x": {"field": "x", "type": "quantitative", "title": "Sputtering depth [nm]"}, "y": {"field": "y", "type": "quantitative", "title": "Counts / s"}, "text": {"field": "t"}}}
             ]},
            {"width": 283, "height": 225, "transform": [{"filter": "datum.p == 3"}],
             "layer": [
              {"transform": [{"filter": "!datum.k"}], "mark": {"type": "area", "strokeWidth": 1, "clip": true},
               "encoding": {
                "x": {"field": "x", "type": "quantitative", "title": "Sputtering depth [nm]", "scale": {"domain": [0, 350], "nice": false, "zero": false}, "axis": {"values": [0, 50, 100, 150, 200, 250, 300, 350], "labelFontSize": 15, "titleFontSize": 16, "tickSize": 3, "labelPadding": 3, "titlePadding": 4}},
                "y": {"field": "lo", "type": "quantitative", "title": "Counts / s", "scale": {"type": "log", "domain": [100, 20000000], "nice": false}, "axis": {"values": [100, 1000, 10000, 100000, 1000000, 10000000], "labelExpr": "'10' + ['⁰','¹','²','³','⁴','⁵','⁶','⁷','⁸'][round(log(datum.value)/LN10)]", "labelFontSize": 16, "titleFontSize": 16, "tickSize": 3, "labelPadding": 3, "titlePadding": 8}},
                "y2": {"field": "hi"},
                "fill": {"field": "s", "type": "nominal", "scale": {"domain": ["C", "N", "O", "Si", "Al"], "range": ["#000000", "#0000ff", "#ff0000", "#808080", "#008000"]}, "legend": null},
                "stroke": {"field": "s", "type": "nominal", "scale": {"domain": ["C", "N", "O", "Si", "Al"], "range": ["#000000", "#0000ff", "#ff0000", "#808080", "#008000"]}, "legend": null}}},
              {"transform": [{"filter": "datum.k == 'L'"}], "mark": {"type": "text", "fontSize": 19, "fontWeight": "bold", "baseline": "middle"},
               "encoding": {"x": {"field": "x", "type": "quantitative", "title": "Sputtering depth [nm]"}, "y": {"field": "y", "type": "quantitative", "title": "Counts / s"}, "text": {"field": "t"},
                "color": {"field": "s", "type": "nominal", "scale": {"domain": ["C", "N", "O", "Si", "Al"], "range": ["#000000", "#0000ff", "#ff0000", "#8c8c8c", "#1e8c1e"]}, "legend": null}}},
              {"transform": [{"filter": "datum.k == 'T'"}], "mark": {"type": "text", "fontSize": 19, "fontWeight": "bold", "align": "right", "baseline": "middle", "color": "black"},
               "encoding": {"x": {"field": "x", "type": "quantitative", "title": "Sputtering depth [nm]"}, "y": {"field": "y", "type": "quantitative", "title": "Counts / s"}, "text": {"field": "t"}}}
             ]},
            {"width": 283, "height": 225, "transform": [{"filter": "datum.p == 4"}],
             "layer": [
              {"transform": [{"filter": "!datum.k"}], "mark": {"type": "area", "strokeWidth": 1, "clip": true},
               "encoding": {
                "x": {"field": "x", "type": "quantitative", "title": "Sputtering depth [nm]", "scale": {"domain": [0, 350], "nice": false, "zero": false}, "axis": {"values": [0, 50, 100, 150, 200, 250, 300, 350], "labelFontSize": 15, "titleFontSize": 16, "tickSize": 3, "labelPadding": 3, "titlePadding": 4}},
                "y": {"field": "lo", "type": "quantitative", "title": "Counts / s", "scale": {"type": "log", "domain": [100, 20000000], "nice": false}, "axis": {"values": [100, 1000, 10000, 100000, 1000000, 10000000], "labelExpr": "'10' + ['⁰','¹','²','³','⁴','⁵','⁶','⁷','⁸'][round(log(datum.value)/LN10)]", "labelFontSize": 16, "titleFontSize": 16, "tickSize": 3, "labelPadding": 3, "titlePadding": 8}},
                "y2": {"field": "hi"},
                "fill": {"field": "s", "type": "nominal", "scale": {"domain": ["C", "N", "O", "Si", "Al"], "range": ["#000000", "#0000ff", "#ff0000", "#808080", "#008000"]}, "legend": null},
                "stroke": {"field": "s", "type": "nominal", "scale": {"domain": ["C", "N", "O", "Si", "Al"], "range": ["#000000", "#0000ff", "#ff0000", "#808080", "#008000"]}, "legend": null}}},
              {"transform": [{"filter": "datum.k == 'L'"}], "mark": {"type": "text", "fontSize": 19, "fontWeight": "bold", "baseline": "middle"},
               "encoding": {"x": {"field": "x", "type": "quantitative", "title": "Sputtering depth [nm]"}, "y": {"field": "y", "type": "quantitative", "title": "Counts / s"}, "text": {"field": "t"},
                "color": {"field": "s", "type": "nominal", "scale": {"domain": ["C", "N", "O", "Si", "Al"], "range": ["#000000", "#0000ff", "#ff0000", "#8c8c8c", "#1e8c1e"]}, "legend": null}}},
              {"transform": [{"filter": "datum.k == 'T'"}], "mark": {"type": "text", "fontSize": 19, "fontWeight": "bold", "align": "right", "baseline": "middle", "color": "black"},
               "encoding": {"x": {"field": "x", "type": "quantitative", "title": "Sputtering depth [nm]"}, "y": {"field": "y", "type": "quantitative", "title": "Counts / s"}, "text": {"field": "t"}}}
             ]}
          ]
        }
      ],
      "spacing": -5
    },
    {
      "hconcat": [
        {
          "width": 319, "height": 256,
          "data": {"name": "o1s"},
          "layer": [
            {
              "mark": {"type": "line", "strokeWidth": 1.1, "clip": true},
              "encoding": {
                "x": {"field": "x", "type": "quantitative", "scale": {"domain": [526, 538], "reverse": true, "nice": false, "zero": false},
                      "axis": {"title": "Binding energy [eV]", "values": [526,528,530,532,534,536,538], "labelFontSize": 15, "titleFontSize": 22, "tickSize": 6, "offset": -6, "labelPadding": 10, "titlePadding": 6}},
                "y": {"field": "y", "type": "quantitative", "scale": {"domain": [0, 10000], "nice": false},
                      "axis": {"title": null, "values": [0,2000,4000,6000,8000,10000], "labelExpr": "datum.value == 0 ? '0.0' : datum.value == 10000 ? '1.0x10⁴' : format(datum.value/1000, '.1f') + 'x10³'", "labelFontSize": 16, "tickSize": 6, "offset": -6, "labelPadding": 4}},
                "color": {"field": "c", "type": "nominal", "scale": {"domain": ["k", "b", "r", "d"], "range": ["#000000", "#2020ff", "#ff2020", "#505050"]}, "legend": null},
                "strokeDash": {"field": "c", "type": "nominal", "scale": {"domain": ["k", "b", "r", "d"], "range": [[1, 0], [1, 0], [1, 0], [5, 3]]}, "legend": null}
              }
            },
            {
              "data": {"values": [{"x": 526.45, "y": 9050, "t": "O 1s"}]},
              "mark": {"type": "text", "fontSize": 25, "fontWeight": "bold", "align": "right", "baseline": "middle", "color": "black"},
              "encoding": {"x": {"field": "x", "type": "quantitative", "axis": null}, "y": {"field": "y", "type": "quantitative", "axis": null}, "text": {"field": "t"}}
            },
            {
              "mark": {"type": "point", "opacity": 0},
              "encoding": {
                "x": {"field": "x", "type": "quantitative", "axis": {"orient": "top", "labels": false, "title": null, "values": [526,528,530,532,534,536,538], "tickSize": 6, "offset": -6}},
                "y": {"field": "y", "type": "quantitative", "axis": {"orient": "right", "labels": false, "title": null, "values": [0,2000,4000,6000,8000,10000], "tickSize": 6, "offset": -6}}
              }
            },
            {
              "mark": {"type": "point", "opacity": 0},
              "encoding": {
                "x": {"field": "x", "type": "quantitative", "axis": {"orient": "bottom", "labels": false, "title": null, "values": [527,529,531,533,535,537], "tickSize": 3, "offset": -3}},
                "y": {"field": "y", "type": "quantitative", "axis": {"orient": "left", "labels": false, "title": null, "values": [1000,3000,5000,7000,9000], "tickSize": 3, "offset": -3}}
              }
            },
            {
              "mark": {"type": "point", "opacity": 0},
              "encoding": {
                "x": {"field": "x", "type": "quantitative", "axis": {"orient": "top", "labels": false, "title": null, "values": [527,529,531,533,535,537], "tickSize": 3, "offset": -3}},
                "y": {"field": "y", "type": "quantitative", "axis": {"orient": "right", "labels": false, "title": null, "values": [1000,3000,5000,7000,9000], "tickSize": 3, "offset": -3}}
              }
            }
          ],
          "resolve": {"axis": {"x": "independent", "y": "independent"}}
        },
        {
          "width": 319, "height": 255,
          "data": {"name": "al2p"},
          "layer": [
            {
              "mark": {"type": "line", "strokeWidth": 1.1, "clip": true},
              "encoding": {
                "x": {"field": "x", "type": "quantitative", "scale": {"domain": [70, 80], "reverse": true, "nice": false, "zero": false},
                      "axis": {"title": "Binding energy [eV]", "values": [70,72,74,76,78,80], "labelFontSize": 15, "titleFontSize": 22, "tickSize": 6, "offset": -6, "labelPadding": 10, "titlePadding": 6}},
                "y": {"field": "y", "type": "quantitative", "scale": {"domain": [0, 1100], "nice": false},
                      "axis": {"title": "Counts / s", "titleFontSize": 22, "titlePadding": 2, "values": [0,200,400,600,800,1000], "labelExpr": "datum.value == 0 ? '0.0' : datum.value == 1000 ? '1.0x10³' : format(datum.value/100, '.1f') + 'x10²'", "labelFontSize": 16, "tickSize": 6, "offset": -6, "labelPadding": 4}},
                "color": {"field": "c", "type": "nominal", "scale": {"domain": ["k", "b", "r", "d"], "range": ["#000000", "#2020ff", "#ff2020", "#505050"]}, "legend": null},
                "strokeDash": {"field": "c", "type": "nominal", "scale": {"domain": ["k", "b", "r", "d"], "range": [[1, 0], [1, 0], [1, 0], [5, 3]]}, "legend": null}
              }
            },
            {
              "data": {"values": [{"x": 70.3, "y": 998, "t": "Al 2p"}]},
              "mark": {"type": "text", "fontSize": 26, "fontWeight": "bold", "align": "right", "baseline": "middle", "color": "black"},
              "encoding": {"x": {"field": "x", "type": "quantitative", "axis": null}, "y": {"field": "y", "type": "quantitative", "axis": null}, "text": {"field": "t"}}
            },
            {
              "mark": {"type": "point", "opacity": 0},
              "encoding": {
                "x": {"field": "x", "type": "quantitative", "axis": {"orient": "top", "labels": false, "title": null, "values": [70,72,74,76,78,80], "tickSize": 6, "offset": -6}},
                "y": {"field": "y", "type": "quantitative", "axis": {"orient": "right", "labels": false, "title": null, "values": [0,200,400,600,800,1000], "tickSize": 6, "offset": -6}}
              }
            },
            {
              "mark": {"type": "point", "opacity": 0},
              "encoding": {
                "x": {"field": "x", "type": "quantitative", "axis": {"orient": "bottom", "labels": false, "title": null, "values": [71,73,75,77,79], "tickSize": 3, "offset": -3}},
                "y": {"field": "y", "type": "quantitative", "axis": {"orient": "left", "labels": false, "title": null, "values": [100,300,500,700,900], "tickSize": 3, "offset": -3}}
              }
            },
            {
              "mark": {"type": "point", "opacity": 0},
              "encoding": {
                "x": {"field": "x", "type": "quantitative", "axis": {"orient": "top", "labels": false, "title": null, "values": [71,73,75,77,79], "tickSize": 3, "offset": -3}},
                "y": {"field": "y", "type": "quantitative", "axis": {"orient": "right", "labels": false, "title": null, "values": [100,300,500,700,900], "tickSize": 3, "offset": -3}}
              }
            }
          ],
          "resolve": {"axis": {"x": "independent", "y": "independent"}}
        }
      ],
      "spacing": 99,
      "bounds": "flush",
      "title": {"text": "X-Ray Photoelectron Spectroscopy", "anchor": "start", "frame": "group", "baseline": "alphabetic", "offset": 24, "dx": 107, "fontSize": 26, "fontWeight": "bold"}
    }
  ],
  "spacing": 57
}
